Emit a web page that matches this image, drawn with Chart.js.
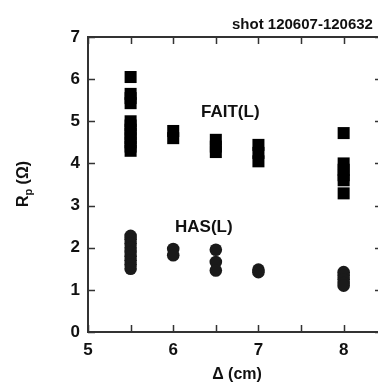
<!DOCTYPE html>
<html>
<head>
<meta charset="utf-8">
<script src="https://cdn.jsdelivr.net/npm/chart.js@4"></script>
<style>
  html, body { margin: 0; padding: 0; background: #fff; overflow: hidden; }
  #wrap { width: 400px; height: 383px; }
</style>
</head>
<body>
<div id="wrap"><canvas id="chart" width="400" height="383"></canvas></div>
<script>
// Rp vs Delta
const faitX = [5.5, 5.5, 5.5, 5.5, 5.5, 5.5, 5.5, 5.5, 5.5, 5.5, 5.5, 5.5,
               6, 6, 6.5, 6.5, 6.5, 7, 7, 7, 8, 8, 8, 8, 8, 8];
const faitY = [6.05, 5.65, 5.55, 5.43, 5.0, 4.9, 4.8, 4.7, 4.6, 4.5, 4.4, 4.3,
               4.77, 4.6, 4.56, 4.4, 4.27, 4.44, 4.25, 4.05, 4.72, 4.0, 3.85, 3.72, 3.6, 3.29];
const hasX = [5.5, 5.5, 5.5, 5.5, 5.5, 5.5, 5.5, 5.5, 5.5,
              6, 6, 6.5, 6.5, 6.5, 7, 7, 8, 8, 8, 8, 8];
const hasY = [2.28, 2.2, 2.1, 2.0, 1.9, 1.8, 1.7, 1.6, 1.5,
              1.97, 1.82, 1.95, 1.66, 1.46, 1.48, 1.42, 1.42, 1.34, 1.25, 1.16, 1.1];
const xTicks = [5, 6, 7, 8];
const xMinor = [5.5, 6.5, 7.5];
const yTicks = [0, 1, 2, 3, 4, 5, 6, 7];

const FONT = "'Liberation Sans', Arial, sans-serif";
const AXIS = '#333';

function pts(xs, ys) {
    return xs.map((x, i) => ({ x: x, y: ys[i] }));
}

// frame, inward ticks and all the loose text
const decor = {
    id: 'decor',
    afterDraw(chart) {
        const ctx = chart.ctx;
        const a = chart.chartArea;
        const sx = chart.scales.x, sy = chart.scales.y;
        ctx.save();
        ctx.strokeStyle = AXIS;
        ctx.lineWidth = 2;
        ctx.strokeRect(a.left, a.top, a.right - a.left, a.bottom - a.top);
        ctx.lineWidth = 1.5;
        ctx.beginPath();
        xTicks.concat(xMinor).forEach(v => {
            const px = Math.round(sx.getPixelForValue(v)) + 0.5;
            ctx.moveTo(px, a.bottom); ctx.lineTo(px, a.bottom - 7);
            ctx.moveTo(px, a.top); ctx.lineTo(px, a.top + 7);
        });
        yTicks.forEach(v => {
            const py = Math.round(sy.getPixelForValue(v)) + 0.5;
            ctx.moveTo(a.left, py); ctx.lineTo(a.left + 7, py);
            ctx.moveTo(a.right, py); ctx.lineTo(a.right - 7, py);
        });
        ctx.stroke();

        ctx.fillStyle = '#111';
        ctx.textBaseline = 'alphabetic';
        ctx.textAlign = 'left';
        ctx.font = 'bold 15px ' + FONT;
        ctx.fillText('shot 120607-120632', 232, 29);
        ctx.font = 'bold 17px ' + FONT;
        ctx.fillText('FAIT(L)', 201, 117);
        ctx.fillText('HAS(L)', 175, 232);

        // x title
        ctx.textAlign = 'center';
        ctx.font = 'bold 16px ' + FONT;
        ctx.fillText('\u0394 (cm)', 237, 379);

        // y title with subscript
        ctx.translate(28, 184);
        ctx.rotate(-Math.PI / 2);
        ctx.textAlign = 'left';
        ctx.font = 'bold 16px ' + FONT;
        const w1 = ctx.measureText('R').width;
        ctx.font = 'bold 11px ' + FONT;
        const w2 = ctx.measureText('p').width;
        ctx.font = 'bold 16px ' + FONT;
        const w3 = ctx.measureText(' (\u03A9)').width;
        let x0 = -(w1 + w2 + w3) / 2;
        ctx.fillText('R', x0, 0);
        ctx.font = 'bold 11px ' + FONT;
        ctx.fillText('p', x0 + w1, 4);
        ctx.font = 'bold 16px ' + FONT;
        ctx.fillText(' (\u03A9)', x0 + w1 + w2, 0);
        ctx.restore();
    }
};

new Chart(document.getElementById('chart'), {
    type: 'scatter',
    data: {
        datasets: [{
            label: 'FAIT(L)',
            data: pts(faitX, faitY),
            pointStyle: 'rect',
            pointRadius: 8.5,
            pointHoverRadius: 8.5,
            backgroundColor: '#000',
            borderWidth: 0
        }, {
            label: 'HAS(L)',
            data: pts(hasX, hasY),
            pointStyle: 'circle',
            pointRadius: 6.3,
            pointHoverRadius: 6.3,
            backgroundColor: '#1a1a1a',
            borderWidth: 0
        }]
    },
    plugins: [decor],
    options: {
        responsive: false,
        animation: false,
        layout: { padding: { top: 37, right: 18, left: 0, bottom: 0 } },
        plugins: {
            legend: { display: false },
            tooltip: { enabled: false }
        },
        scales: {
            x: {
                type: 'linear',
                min: 5,
                max: 8.45,
                grid: { display: false, drawTicks: false },
                border: { display: false },
                afterBuildTicks: s => { s.ticks = xTicks.map(v => ({ value: v })); },
                afterFit: s => { s.height = 51; },
                ticks: {
                    padding: 8,
                    color: '#111',
                    font: { family: FONT, size: 17, weight: 'bold' }
                }
            },
            y: {
                type: 'linear',
                min: 0,
                max: 7,
                grid: { display: false, drawTicks: false },
                border: { display: false },
                afterBuildTicks: s => { s.ticks = yTicks.map(v => ({ value: v })); },
                afterFit: s => { s.width = 88; },
                ticks: {
                    padding: 8,
                    color: '#111',
                    font: { family: FONT, size: 17, weight: 'bold' }
                }
            }
        }
    }
});
</script>
</body>
</html>
